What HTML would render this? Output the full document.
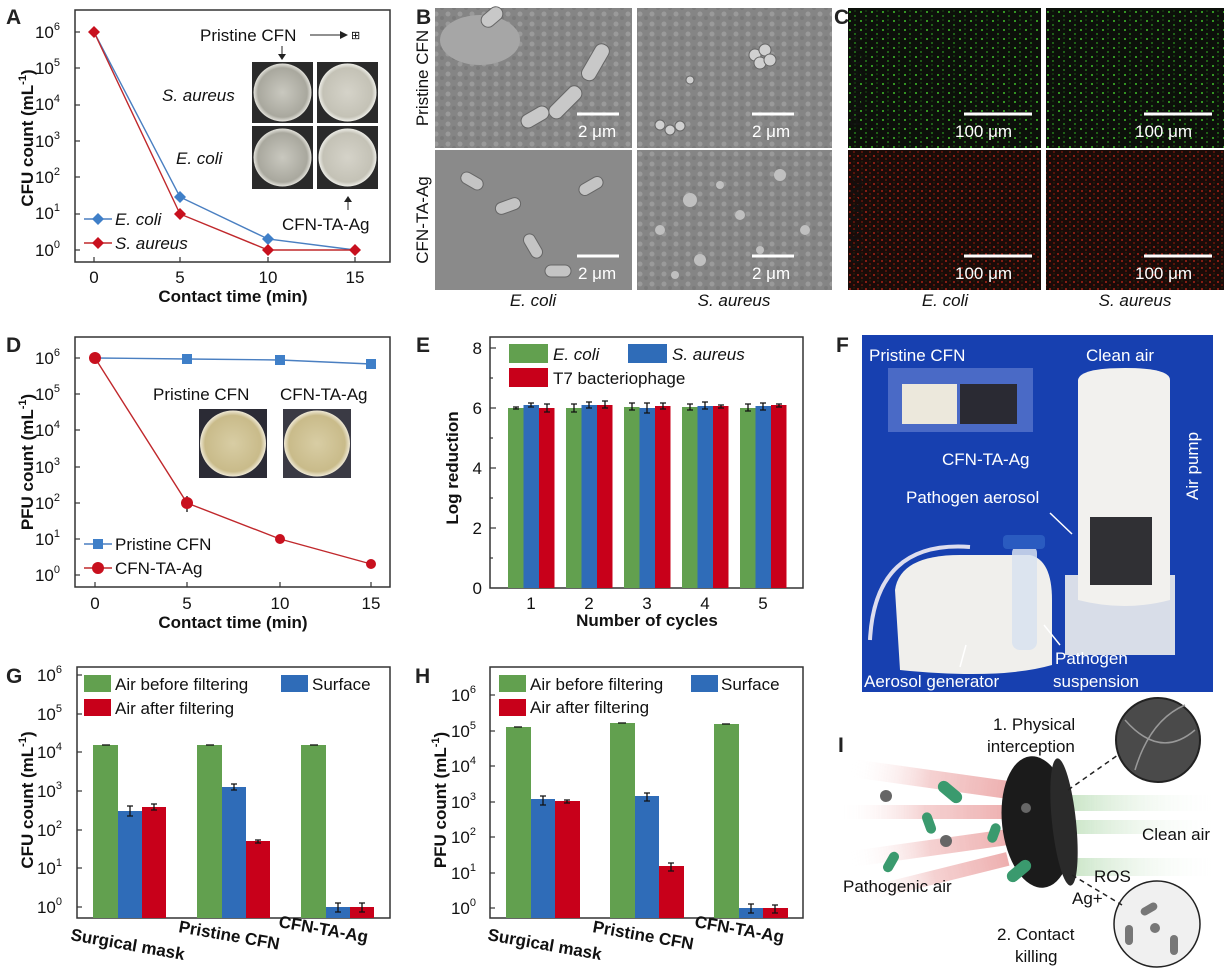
<!DOCTYPE html>
<html><head><meta charset="utf-8"><style>
html,body{margin:0;padding:0;background:#fff}
svg{display:block;font-family:"Liberation Sans",Arial,sans-serif}
.t{font-size:17px;fill:#111}
.b{font-weight:bold}
.i{font-style:italic}
.L{font-size:21px;font-weight:bold;fill:#222}
.ax{fill:none;stroke:#333;stroke-width:1.5}
.w{fill:#fff;font-size:17px}
.eb{stroke:#111;stroke-width:1.3;fill:none}
</style></head><body>
<svg width="1227" height="971" viewBox="0 0 1227 971" xmlns="http://www.w3.org/2000/svg">
<defs>
<radialGradient id="dish" cx="50%" cy="50%" r="50%"><stop offset="0" stop-color="#c9c8bf"/><stop offset="0.85" stop-color="#a9a89e"/><stop offset="1" stop-color="#e4e3dc"/></radialGradient>
<radialGradient id="dish2" cx="50%" cy="50%" r="50%"><stop offset="0" stop-color="#d5d3c9"/><stop offset="0.85" stop-color="#c4c2b6"/><stop offset="1" stop-color="#eeeee8"/></radialGradient>
<radialGradient id="pdish" cx="50%" cy="50%" r="50%"><stop offset="0" stop-color="#d8cda4"/><stop offset="0.85" stop-color="#c9bb8a"/><stop offset="1" stop-color="#efe9d6"/></radialGradient>
<pattern id="gdots" width="11" height="9" patternUnits="userSpaceOnUse"><rect width="11" height="9" fill="#0c100a"/><circle cx="3" cy="3" r="1" fill="#3fbf2a"/><circle cx="8" cy="7" r="0.9" fill="#2e9d22"/><circle cx="8" cy="2" r="0.6" fill="#1f7a16"/></pattern>
<pattern id="rdots" width="8" height="7" patternUnits="userSpaceOnUse"><rect width="8" height="7" fill="#1a0b08"/><circle cx="2" cy="2" r="1" fill="#a82216"/><circle cx="6" cy="5" r="0.9" fill="#85190f"/><circle cx="6" cy="1" r="0.5" fill="#3a4a18"/></pattern>
<pattern id="sem" width="12" height="10" patternUnits="userSpaceOnUse"><rect width="12" height="10" fill="#858585"/><circle cx="4" cy="4" r="2.5" fill="#9a9a9a"/><circle cx="10" cy="8" r="2" fill="#7a7a7a"/></pattern>
<linearGradient id="red" x1="0" x2="1"><stop offset="0" stop-color="#fff" stop-opacity="0"/><stop offset="0.5" stop-color="#eaa0a0" stop-opacity="0.6"/><stop offset="1" stop-color="#e07070" stop-opacity="0.7"/></linearGradient>
<linearGradient id="grn" x1="0" x2="1"><stop offset="0" stop-color="#9fd09a" stop-opacity="0.7"/><stop offset="1" stop-color="#fff" stop-opacity="0"/></linearGradient>
</defs>

<!-- ===== A ===== -->
<text x="6" y="24" class="L">A</text>
<rect x="75" y="10" width="315" height="252" class="ax"/>
<g class="t" text-anchor="end">
<text x="60" y="38">10<tspan dy="-8" font-size="11">6</tspan></text>
<text x="60" y="74">10<tspan dy="-8" font-size="11">5</tspan></text>
<text x="60" y="110">10<tspan dy="-8" font-size="11">4</tspan></text>
<text x="60" y="147">10<tspan dy="-8" font-size="11">3</tspan></text>
<text x="60" y="183">10<tspan dy="-8" font-size="11">2</tspan></text>
<text x="60" y="219">10<tspan dy="-8" font-size="11">1</tspan></text>
<text x="60" y="256">10<tspan dy="-8" font-size="11">0</tspan></text>
</g>
<g stroke="#333" stroke-width="1.2">
<line x1="75" y1="32" x2="80" y2="32"/><line x1="75" y1="68" x2="80" y2="68"/><line x1="75" y1="105" x2="80" y2="105"/><line x1="75" y1="141" x2="80" y2="141"/><line x1="75" y1="177" x2="80" y2="177"/><line x1="75" y1="214" x2="80" y2="214"/><line x1="75" y1="250" x2="80" y2="250"/>
<line x1="94" y1="262" x2="94" y2="257"/><line x1="180" y1="262" x2="180" y2="257"/><line x1="268" y1="262" x2="268" y2="257"/><line x1="355" y1="262" x2="355" y2="257"/>
</g>
<g class="t" text-anchor="middle"><text x="94" y="283">0</text><text x="180" y="283">5</text><text x="268" y="283">10</text><text x="355" y="283">15</text></g>
<text x="233" y="302" class="t b" text-anchor="middle">Contact time (min)</text>
<text transform="translate(33,138) rotate(-90)" class="t b" text-anchor="middle">CFU count (mL<tspan dy="-7" font-size="11">-1</tspan><tspan dy="7">)</tspan></text>
<rect x="252" y="62" width="61" height="61" fill="#2a2a2a"/><circle cx="282.5" cy="92.5" r="29" fill="url(#dish)"/>
<rect x="317" y="62" width="61" height="61" fill="#2a2a2a"/><circle cx="347.5" cy="92.5" r="29" fill="url(#dish2)"/>
<rect x="252" y="126" width="61" height="63" fill="#2a2a2a"/><circle cx="282.5" cy="157.5" r="29" fill="url(#dish)"/>
<rect x="317" y="126" width="61" height="63" fill="#2a2a2a"/><circle cx="347.5" cy="157.5" r="29" fill="url(#dish2)"/>
<text x="200" y="41" class="t">Pristine CFN</text>
<line x1="310" y1="35" x2="340" y2="35" stroke="#222"/><path d="M340 31 L348 35 L340 39 Z" fill="#222"/>
<text x="351" y="39" font-size="11">⊞</text>
<line x1="282" y1="46" x2="282" y2="56" stroke="#222"/><path d="M278 54 L282 60 L286 54 Z" fill="#222"/>
<line x1="348" y1="200" x2="348" y2="210" stroke="#222"/><path d="M344 202 L348 196 L352 202 Z" fill="#222"/>
<text x="162" y="101" class="t i">S. aureus</text>
<text x="176" y="164" class="t i">E. coli</text>
<text x="282" y="230" class="t">CFN-TA-Ag</text>
<polyline points="94,32 180,197 268,239 355,250" fill="none" stroke="#4a7fc1" stroke-width="1.4"/>
<polyline points="94,32 180,214 268,250 355,250" fill="none" stroke="#c0282c" stroke-width="1.4"/>
<g fill="#3f7fc8"><path d="M180 191 l6 6 -6 6 -6 -6z"/><path d="M268 233 l6 6 -6 6 -6 -6z"/></g>
<g fill="#c8101e"><path d="M94 26 l6 6 -6 6 -6 -6z"/><path d="M180 208 l6 6 -6 6 -6 -6z"/><path d="M268 244 l6 6 -6 6 -6 -6z"/><path d="M355 244 l6 6 -6 6 -6 -6z"/></g>
<line x1="84" y1="219" x2="112" y2="219" stroke="#4a7fc1" stroke-width="1.4"/><path d="M98 213 l6 6 -6 6 -6 -6z" fill="#3f7fc8"/>
<text x="115" y="225" class="t i">E. coli</text>
<line x1="84" y1="243" x2="112" y2="243" stroke="#c0282c" stroke-width="1.4"/><path d="M98 237 l6 6 -6 6 -6 -6z" fill="#c8101e"/>
<text x="115" y="249" class="t i">S. aureus</text>

<!-- ===== B ===== -->
<text x="416" y="24" class="L">B</text>
<rect x="435" y="8" width="197" height="140" fill="url(#sem)"/>
<ellipse cx="480" cy="40" rx="40" ry="25" fill="#a6a6a6"/>
<g fill="#c8c8c8" stroke="#666"><rect x="480" y="10" width="24" height="14" rx="7" transform="rotate(-40 492 17)"/><rect x="575" y="55" width="40" height="15" rx="7" transform="rotate(-60 595 62)"/><rect x="545" y="95" width="40" height="15" rx="7" transform="rotate(-45 565 102)"/><rect x="520" y="110" width="30" height="14" rx="7" transform="rotate(-30 535 117)"/></g>
<rect x="637" y="8" width="195" height="140" fill="url(#sem)"/>
<g fill="#d0d0d0" stroke="#666"><circle cx="755" cy="55" r="6"/><circle cx="765" cy="50" r="6"/><circle cx="760" cy="63" r="6"/><circle cx="770" cy="60" r="6"/><circle cx="660" cy="125" r="5"/><circle cx="670" cy="130" r="5"/><circle cx="680" cy="126" r="5"/><circle cx="690" cy="80" r="4"/></g>
<rect x="435" y="150" width="197" height="140" fill="#8a8a8a"/>
<g fill="#c4c4c4" stroke="#666"><rect x="460" y="175" width="24" height="12" rx="6" transform="rotate(30 472 181)"/><rect x="495" y="200" width="26" height="12" rx="6" transform="rotate(-20 508 206)"/><rect x="578" y="180" width="26" height="12" rx="6" transform="rotate(-30 591 186)"/><rect x="520" y="240" width="26" height="12" rx="6" transform="rotate(60 533 246)"/><rect x="545" y="265" width="26" height="12" rx="6"/></g>
<rect x="637" y="150" width="195" height="140" fill="url(#sem)"/>
<g fill="#c0c0c0"><circle cx="690" cy="200" r="7"/><circle cx="740" cy="215" r="5"/><circle cx="700" cy="260" r="6"/><circle cx="780" cy="175" r="6"/><circle cx="660" cy="230" r="5"/><circle cx="760" cy="250" r="4"/><circle cx="720" cy="185" r="4"/><circle cx="805" cy="230" r="5"/><circle cx="675" cy="275" r="4"/></g>
<g stroke="#fff" stroke-width="3"><line x1="577" y1="114" x2="619" y2="114"/><line x1="752" y1="114" x2="794" y2="114"/><line x1="577" y1="256" x2="619" y2="256"/><line x1="752" y1="256" x2="794" y2="256"/></g>
<g class="w"><text x="578" y="137">2 μm</text><text x="752" y="137">2 μm</text><text x="578" y="279">2 μm</text><text x="752" y="279">2 μm</text></g>
<text transform="translate(428,78) rotate(-90)" class="t" text-anchor="middle">Pristine CFN</text>
<text transform="translate(428,220) rotate(-90)" class="t" text-anchor="middle">CFN-TA-Ag</text>
<text x="533" y="306" class="t i" text-anchor="middle">E. coli</text>
<text x="734" y="306" class="t i" text-anchor="middle">S. aureus</text>

<!-- ===== C ===== -->
<text x="834" y="24" class="L">C</text>
<rect x="848" y="8" width="193" height="140" fill="url(#gdots)"/>
<rect x="1046" y="8" width="178" height="140" fill="url(#gdots)"/>
<rect x="848" y="150" width="193" height="140" fill="url(#rdots)"/>
<rect x="1046" y="150" width="178" height="140" fill="url(#rdots)"/>
<g stroke="#fff" stroke-width="3"><line x1="964" y1="114" x2="1032" y2="114"/><line x1="1144" y1="114" x2="1212" y2="114"/><line x1="964" y1="256" x2="1032" y2="256"/><line x1="1144" y1="256" x2="1212" y2="256"/></g>
<g class="w"><text x="955" y="137">100 μm</text><text x="1135" y="137">100 μm</text><text x="955" y="279">100 μm</text><text x="1135" y="279">100 μm</text></g>
<text transform="translate(862,78) rotate(-90)" class="t" text-anchor="middle" fill="#fff">Pristine CFN</text>
<text transform="translate(862,220) rotate(-90)" class="t" text-anchor="middle" fill="#fff">CFN-TA-Ag</text>
<text x="945" y="306" class="t i" text-anchor="middle">E. coli</text>
<text x="1135" y="306" class="t i" text-anchor="middle">S. aureus</text>

<!-- ===== D ===== -->
<text x="6" y="352" class="L">D</text>
<rect x="75" y="337" width="315" height="250" class="ax"/>
<g class="t" text-anchor="end">
<text x="60" y="364">10<tspan dy="-8" font-size="11">6</tspan></text>
<text x="60" y="400">10<tspan dy="-8" font-size="11">5</tspan></text>
<text x="60" y="436">10<tspan dy="-8" font-size="11">4</tspan></text>
<text x="60" y="473">10<tspan dy="-8" font-size="11">3</tspan></text>
<text x="60" y="509">10<tspan dy="-8" font-size="11">2</tspan></text>
<text x="60" y="545">10<tspan dy="-8" font-size="11">1</tspan></text>
<text x="60" y="581">10<tspan dy="-8" font-size="11">0</tspan></text>
</g>
<g stroke="#333" stroke-width="1.2">
<line x1="75" y1="358" x2="80" y2="358"/><line x1="75" y1="394" x2="80" y2="394"/><line x1="75" y1="430" x2="80" y2="430"/><line x1="75" y1="467" x2="80" y2="467"/><line x1="75" y1="503" x2="80" y2="503"/><line x1="75" y1="539" x2="80" y2="539"/><line x1="75" y1="575" x2="80" y2="575"/>
<line x1="95" y1="587" x2="95" y2="582"/><line x1="187" y1="587" x2="187" y2="582"/><line x1="280" y1="587" x2="280" y2="582"/><line x1="371" y1="587" x2="371" y2="582"/>
</g>
<g class="t" text-anchor="middle"><text x="95" y="609">0</text><text x="187" y="609">5</text><text x="280" y="609">10</text><text x="371" y="609">15</text></g>
<text x="233" y="628" class="t b" text-anchor="middle">Contact time (min)</text>
<text transform="translate(33,462) rotate(-90)" class="t b" text-anchor="middle">PFU count (mL<tspan dy="-7" font-size="11">-1</tspan><tspan dy="7">)</tspan></text>
<text x="153" y="400" class="t">Pristine CFN</text><text x="280" y="400" class="t">CFN-TA-Ag</text>
<rect x="199" y="409" width="68" height="69" fill="#2b2b35"/><circle cx="233" cy="443.5" r="33" fill="url(#pdish)"/>
<rect x="283" y="409" width="68" height="69" fill="#3a3a44"/><circle cx="317" cy="443.5" r="33" fill="url(#pdish)"/>
<polyline points="95,358 187,359 280,360 371,364" fill="none" stroke="#4a7fc1" stroke-width="1.4"/>
<polyline points="95,358 187,503 280,539 371,564" fill="none" stroke="#c0282c" stroke-width="1.4"/>
<line x1="187" y1="496" x2="187" y2="512" class="eb"/>
<g fill="#3f7fc8"><rect x="182" y="354" width="10" height="10"/><rect x="275" y="355" width="10" height="10"/><rect x="366" y="359" width="10" height="10"/></g>
<g fill="#c8101e"><circle cx="95" cy="358" r="6"/><circle cx="187" cy="503" r="6"/><circle cx="280" cy="539" r="5"/><circle cx="371" cy="564" r="5"/></g>
<line x1="84" y1="544" x2="112" y2="544" stroke="#4a7fc1" stroke-width="1.4"/><rect x="93" y="539" width="10" height="10" fill="#3f7fc8"/>
<text x="115" y="550" class="t">Pristine CFN</text>
<line x1="84" y1="568" x2="112" y2="568" stroke="#c0282c" stroke-width="1.4"/><circle cx="98" cy="568" r="6" fill="#c8101e"/>
<text x="115" y="574" class="t">CFN-TA-Ag</text>

<!-- ===== E ===== -->
<text x="416" y="352" class="L">E</text>
<rect x="490" y="337" width="313" height="251" class="ax"/>
<g class="t" text-anchor="end"><text x="482" y="354">8</text><text x="482" y="414">6</text><text x="482" y="474">4</text><text x="482" y="534">2</text><text x="482" y="594">0</text></g>
<g stroke="#333" stroke-width="1.2"><line x1="490" y1="348" x2="496" y2="348"/><line x1="490" y1="408" x2="496" y2="408"/><line x1="490" y1="468" x2="496" y2="468"/><line x1="490" y1="528" x2="496" y2="528"/><line x1="490" y1="378" x2="493" y2="378"/><line x1="490" y1="438" x2="493" y2="438"/><line x1="490" y1="498" x2="493" y2="498"/><line x1="490" y1="558" x2="493" y2="558"/></g>
<g class="t" text-anchor="middle"><text x="531" y="609">1</text><text x="589" y="609">2</text><text x="647" y="609">3</text><text x="705" y="609">4</text><text x="763" y="609">5</text></g>
<text x="647" y="626" class="t b" text-anchor="middle">Number of cycles</text>
<text transform="translate(458,468) rotate(-90)" class="t b" text-anchor="middle">Log reduction</text>
<g fill="#62a04f"><rect x="508" y="408" width="15.5" height="180"/><rect x="566" y="408" width="15.5" height="180"/><rect x="624" y="407" width="15.5" height="181"/><rect x="682" y="407" width="15.5" height="181"/><rect x="740" y="408" width="15.5" height="180"/></g>
<g fill="#2f6cb8"><rect x="523.5" y="405" width="15.5" height="183"/><rect x="581.5" y="405" width="15.5" height="183"/><rect x="639.5" y="408" width="15.5" height="180"/><rect x="697.5" y="406" width="15.5" height="182"/><rect x="755.5" y="406" width="15.5" height="182"/></g>
<g fill="#c8001a"><rect x="539" y="408" width="15.5" height="180"/><rect x="597" y="405" width="15.5" height="183"/><rect x="655" y="406" width="15.5" height="182"/><rect x="713" y="406" width="15.5" height="182"/><rect x="771" y="405" width="15.5" height="183"/></g>
<g class="eb">
<path d="M513 407h6M516 407v2M513 409h6"/><path d="M528 403h6M531 403v4M528 407h6"/><path d="M544 404h6M547 404v8M544 412h6"/>
<path d="M571 404h6M574 404v8M571 412h6"/><path d="M586 402h6M589 402v6M586 408h6"/><path d="M602 401h6M605 401v7M602 408h6"/>
<path d="M629 403h6M632 403v7M629 410h6"/><path d="M644 403h6M647 403v10M644 413h6"/><path d="M660 403h6M663 403v6M660 409h6"/>
<path d="M687 404h6M690 404v6M687 410h6"/><path d="M702 402h6M705 402v7M702 409h6"/><path d="M718 405h6M721 405v3M718 408h6"/>
<path d="M745 404h6M748 404v7M745 411h6"/><path d="M760 403h6M763 403v7M760 410h6"/><path d="M776 404h6M779 404v3M776 407h6"/>
</g>
<rect x="509" y="344" width="39" height="19" fill="#62a04f"/><text x="553" y="360" class="t i">E. coli</text>
<rect x="628" y="344" width="39" height="19" fill="#2f6cb8"/><text x="672" y="360" class="t i">S. aureus</text>
<rect x="509" y="368" width="39" height="19" fill="#c8001a"/><text x="553" y="384" class="t">T7 bacteriophage</text>

<!-- ===== F ===== -->
<text x="836" y="352" class="L">F</text>
<rect x="862" y="335" width="351" height="357" fill="#1740b0"/>
<rect x="888" y="368" width="145" height="64" fill="#4a6ac6"/>
<rect x="902" y="384" width="55" height="40" fill="#ece8dc"/>
<rect x="960" y="384" width="57" height="40" fill="#2a2a33"/>
<rect x="1065" y="575" width="110" height="80" fill="#d8dde8"/>
<path d="M1078 380 Q1080 368 1125 368 Q1170 368 1170 380 L1170 600 Q1125 612 1078 600 Z" fill="#f2f1ee"/>
<rect x="1090" y="517" width="62" height="68" fill="#303034"/>
<path d="M895 590 Q900 555 960 555 L1030 555 Q1052 560 1052 600 L1052 665 Q1000 680 900 670 Z" fill="#f0efec"/>
<rect x="1012" y="545" width="25" height="105" rx="8" fill="#d8e2f0" opacity="0.85"/>
<rect x="1003" y="535" width="42" height="14" rx="4" fill="#2a5bc0"/>
<path d="M870 640 Q875 540 970 547" fill="none" stroke="#dde" stroke-width="4"/>
<g fill="#fff" font-size="17px">
<text x="869" y="361">Pristine CFN</text><text x="1086" y="361">Clean air</text>
<text x="942" y="465">CFN-TA-Ag</text>
<text x="906" y="503">Pathogen aerosol</text>
<text transform="translate(1198,500) rotate(-90)">Air pump</text>
<text x="864" y="687">Aerosol generator</text>
<text x="1055" y="664">Pathogen</text><text x="1053" y="687">suspension</text>
</g>
<line x1="1050" y1="513" x2="1072" y2="534" stroke="#fff" stroke-width="1.5"/>
<line x1="960" y1="667" x2="966" y2="645" stroke="#fff" stroke-width="1.5"/>
<line x1="1060" y1="645" x2="1044" y2="625" stroke="#fff" stroke-width="1.5"/>

<!-- ===== G ===== -->
<text x="6" y="683" class="L">G</text>
<rect x="77" y="667" width="313" height="251" class="ax"/>
<g class="t" text-anchor="end">
<text x="62" y="681">10<tspan dy="-8" font-size="11">6</tspan></text>
<text x="62" y="720">10<tspan dy="-8" font-size="11">5</tspan></text>
<text x="62" y="758">10<tspan dy="-8" font-size="11">4</tspan></text>
<text x="62" y="797">10<tspan dy="-8" font-size="11">3</tspan></text>
<text x="62" y="836">10<tspan dy="-8" font-size="11">2</tspan></text>
<text x="62" y="874">10<tspan dy="-8" font-size="11">1</tspan></text>
<text x="62" y="913">10<tspan dy="-8" font-size="11">0</tspan></text>
</g>
<g stroke="#333" stroke-width="1.2"><line x1="77" y1="675" x2="82" y2="675"/><line x1="77" y1="714" x2="82" y2="714"/><line x1="77" y1="752" x2="82" y2="752"/><line x1="77" y1="791" x2="82" y2="791"/><line x1="77" y1="830" x2="82" y2="830"/><line x1="77" y1="868" x2="82" y2="868"/><line x1="77" y1="907" x2="82" y2="907"/></g>
<g fill="#62a04f"><rect x="93" y="745" width="25" height="173"/><rect x="197" y="745" width="25" height="173"/><rect x="301" y="745" width="25" height="173"/></g>
<g fill="#2f6cb8"><rect x="118" y="811" width="24" height="107"/><rect x="222" y="787" width="24" height="131"/><rect x="326" y="907" width="24" height="11"/></g>
<g fill="#c8001a"><rect x="142" y="807" width="24" height="111"/><rect x="246" y="841" width="24" height="77"/><rect x="350" y="907" width="24" height="11"/></g>
<g class="eb">
<path d="M102 745h8"/><path d="M206 745h8"/><path d="M310 745h8"/>
<path d="M127 806h6M130 806v10M127 816h6"/><path d="M151 804h6M154 804v6M151 810h6"/>
<path d="M231 784h6M234 784v6M231 790h6"/><path d="M255 840h6M258 840v3M255 843h6"/>
<path d="M335 903h6M338 903v9M335 912h6"/><path d="M359 903h6M362 903v9M359 912h6"/>
</g>
<rect x="84" y="675" width="27" height="17" fill="#62a04f"/><text x="115" y="690" class="t">Air before filtering</text>
<rect x="281" y="675" width="27" height="17" fill="#2f6cb8"/><text x="312" y="690" class="t">Surface</text>
<rect x="84" y="699" width="27" height="17" fill="#c8001a"/><text x="115" y="714" class="t">Air after filtering</text>
<text transform="translate(33,800) rotate(-90)" class="t b" text-anchor="middle">CFU count (mL<tspan dy="-7" font-size="11">-1</tspan><tspan dy="7">)</tspan></text>
<g class="t b"><text transform="translate(70,940) rotate(10)">Surgical mask</text><text transform="translate(178,932) rotate(10)">Pristine CFN</text><text transform="translate(278,927) rotate(10)">CFN-TA-Ag</text></g>

<!-- ===== H ===== -->
<text x="415" y="683" class="L">H</text>
<rect x="490" y="667" width="313" height="251" class="ax"/>
<g class="t" text-anchor="end">
<text x="476" y="701">10<tspan dy="-8" font-size="11">6</tspan></text>
<text x="476" y="737">10<tspan dy="-8" font-size="11">5</tspan></text>
<text x="476" y="772">10<tspan dy="-8" font-size="11">4</tspan></text>
<text x="476" y="808">10<tspan dy="-8" font-size="11">3</tspan></text>
<text x="476" y="843">10<tspan dy="-8" font-size="11">2</tspan></text>
<text x="476" y="879">10<tspan dy="-8" font-size="11">1</tspan></text>
<text x="476" y="914">10<tspan dy="-8" font-size="11">0</tspan></text>
</g>
<g stroke="#333" stroke-width="1.2"><line x1="490" y1="695" x2="495" y2="695"/><line x1="490" y1="731" x2="495" y2="731"/><line x1="490" y1="766" x2="495" y2="766"/><line x1="490" y1="802" x2="495" y2="802"/><line x1="490" y1="837" x2="495" y2="837"/><line x1="490" y1="873" x2="495" y2="873"/><line x1="490" y1="908" x2="495" y2="908"/></g>
<g fill="#62a04f"><rect x="506" y="727" width="25" height="191"/><rect x="610" y="723" width="25" height="195"/><rect x="714" y="724" width="25" height="194"/></g>
<g fill="#2f6cb8"><rect x="531" y="799" width="24" height="119"/><rect x="635" y="796" width="24" height="122"/><rect x="739" y="908" width="24" height="10"/></g>
<g fill="#c8001a"><rect x="555" y="801" width="25" height="117"/><rect x="659" y="866" width="25" height="52"/><rect x="763" y="908" width="25" height="10"/></g>
<g class="eb">
<path d="M514 727h8"/><path d="M618 723h8"/><path d="M722 724h8"/>
<path d="M540 796h6M543 796v9M540 805h6"/><path d="M564 800h6M567 800v3M564 803h6"/>
<path d="M644 793h6M647 793v8M644 801h6"/><path d="M668 863h6M671 863v8M668 871h6"/>
<path d="M748 904h6M751 904v9M748 913h6"/><path d="M772 905h6M775 905v8M772 913h6"/>
</g>
<rect x="499" y="675" width="27" height="17" fill="#62a04f"/><text x="530" y="690" class="t">Air before filtering</text>
<rect x="691" y="675" width="27" height="17" fill="#2f6cb8"/><text x="721" y="690" class="t">Surface</text>
<rect x="499" y="699" width="27" height="17" fill="#c8001a"/><text x="530" y="713" class="t">Air after filtering</text>
<text transform="translate(446,800) rotate(-90)" class="t b" text-anchor="middle">PFU count (mL<tspan dy="-7" font-size="11">-1</tspan><tspan dy="7">)</tspan></text>
<g class="t b"><text transform="translate(487,940) rotate(10)">Surgical mask</text><text transform="translate(592,932) rotate(10)">Pristine CFN</text><text transform="translate(694,927) rotate(10)">CFN-TA-Ag</text></g>

<!-- ===== I ===== -->
<text x="838" y="752" class="L">I</text>
<g opacity="0.8">
<rect x="850" y="770" width="160" height="18" fill="url(#red)" transform="rotate(8 930 780)"/>
<rect x="840" y="805" width="170" height="14" fill="url(#red)"/>
<rect x="850" y="840" width="160" height="16" fill="url(#red)" transform="rotate(-8 930 848)"/>
<rect x="860" y="870" width="150" height="14" fill="url(#red)" transform="rotate(-14 935 877)"/>
<rect x="1070" y="795" width="150" height="16" fill="url(#grn)"/>
<rect x="1070" y="820" width="150" height="14" fill="url(#grn)"/>
<rect x="1070" y="858" width="150" height="18" fill="url(#grn)"/>
</g>
<ellipse cx="1037" cy="822" rx="35" ry="66" fill="#1b1b1b" transform="rotate(-6 1037 822)"/>
<ellipse cx="1064" cy="822" rx="12" ry="64" fill="#2a2a2a" transform="rotate(-6 1064 822)"/>
<g fill="#3a9a6e"><rect x="936" y="786" width="28" height="12" rx="6" transform="rotate(40 950 792)"/><rect x="918" y="818" width="22" height="10" rx="5" transform="rotate(70 929 823)"/><rect x="880" y="857" width="22" height="10" rx="5" transform="rotate(-60 891 862)"/><rect x="1005" y="865" width="28" height="12" rx="6" transform="rotate(-40 1019 871)"/><rect x="984" y="828" width="20" height="10" rx="5" transform="rotate(-70 994 833)"/></g>
<g fill="#666"><circle cx="886" cy="796" r="6"/><circle cx="946" cy="841" r="6"/><circle cx="1026" cy="808" r="5"/></g>
<circle cx="1158" cy="740" r="42" fill="#4a4a4a"/><circle cx="1158" cy="740" r="42" fill="none" stroke="#222" stroke-width="2"/>
<g stroke="#999" stroke-width="1.5" fill="none"><path d="M1125 720 Q1160 760 1195 730"/><path d="M1135 770 Q1150 720 1185 705"/></g>
<circle cx="1157" cy="924" r="43" fill="#f0f0f0" stroke="#222" stroke-width="1.5"/>
<g fill="#777"><rect x="1140" y="905" width="18" height="8" rx="4" transform="rotate(-30 1149 909)"/><rect x="1125" y="925" width="8" height="20" rx="4"/><rect x="1170" y="935" width="8" height="20" rx="4"/><circle cx="1155" cy="928" r="5"/></g>
<g stroke="#222" stroke-dasharray="5,4" stroke-width="1.5"><line x1="1068" y1="790" x2="1118" y2="755"/><line x1="1072" y1="875" x2="1122" y2="905"/></g>
<g class="t" fill="#222"><text x="993" y="730">1. Physical</text><text x="987" y="752">interception</text><text x="1142" y="840">Clean air</text><text x="843" y="892">Pathogenic air</text><text x="1094" y="882">ROS</text><text x="1072" y="904">Ag+</text><text x="997" y="940">2. Contact</text><text x="1015" y="962">killing</text></g>
</svg>
</body></html>
